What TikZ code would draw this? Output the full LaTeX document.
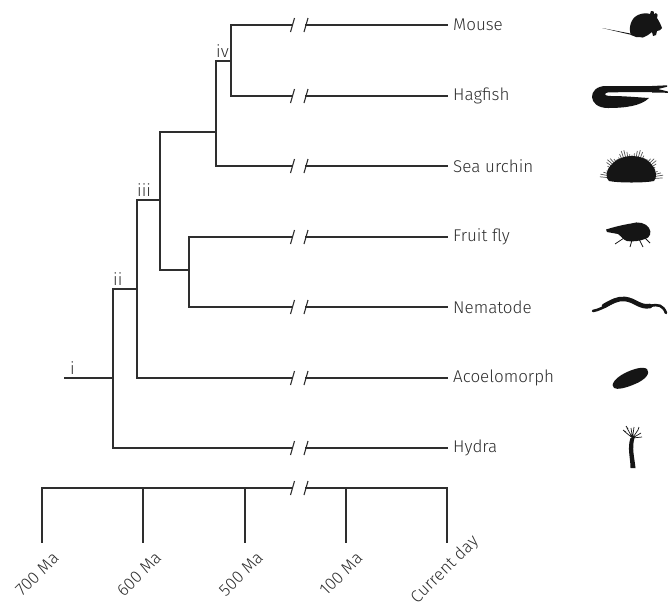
\documentclass[tikz,border=0pt]{standalone}
\usepackage{fontspec}
\setmainfont{Fira Sans}[UprightFont={* Light}]
\definecolor{ink}{HTML}{2E2E2E}
\definecolor{sil}{HTML}{151515}
\definecolor{spk}{HTML}{555555}

% one broken leaf line: branch, gap with two slashes, branch to the label
\newcommand\leafline[2]{%
  \draw[branch] (#1) -- (bl |- #2.west);
  \draw[branch] (br |- #2.west) -- (#2.west);
  \draw[brkmark] (bl |- #2.west) ++(-2,7) -- ++(4,-14);
  \draw[brkmark] (br |- #2.west) ++(-2,7) -- ++(4,-14);
}

\tikzset{
  branch/.style={draw=ink, line width=1.1pt, line cap=rect},
  brkmark/.style={draw=ink, line width=1.1pt},
  leaf/.style={anchor=west, inner xsep=6pt, inner ysep=0pt, text=ink,
    font=\fontsize{17}{19}\selectfont},
  clade/.style={anchor=south west, inner sep=1pt, text=ink,
    font=\fontsize{17}{19}\selectfont},
  axislbl/.style={rotate=45, inner sep=0pt, text=ink,
    font=\fontsize{17}{19}\selectfont},
  silh/.style={fill=sil, draw=none},
  spike/.style={draw=spk, line width=0.7pt},
}

\begin{document}
\begin{tikzpicture}[x=1pt, y=-1pt]
\fill[white] (0,0) rectangle (668,606);
\useasboundingbox (0,0) rectangle (668,606);

% x positions of the two slashes of every break
\coordinate (bl) at (292.5,0);
\coordinate (br) at (306,0);

% taxa
\node[leaf] (mouse)  at (447,25)  {Mouse};
\node[leaf] (hagfish) at (447,96) {Hagfish};
\node[leaf] (urchin) at (447,166) {Sea urchin};
\node[leaf] (fly)    at (447,237) {Fruit fly};
\node[leaf] (nema)   at (447,307) {Nematode};
\node[leaf] (acoel)  at (447,378) {Acoelomorph};
\node[leaf] (hydra)  at (447,448) {Hydra};

% internal nodes (top and bottom of each vertical bar)
\coordinate (root) at (65,378);
\coordinate (a1) at (113,289); \coordinate (a2) at (113,448);
\coordinate (b1) at (137,200); \coordinate (b2) at (137,378);
\coordinate (c1) at (160,132); \coordinate (c2) at (160,270);
\coordinate (d1) at (189,237); \coordinate (d2) at (189,307);
\coordinate (e1) at (216,61);  \coordinate (e2) at (216,166);
\coordinate (f1) at (231,25);  \coordinate (f2) at (231,96);

\draw[branch] (root) -- (a1 |- root);
\draw[branch] (a1) -- (a2);
\draw[branch] (a1) -- (b1 |- a1);
\draw[branch] (b1) -- (b2);
\draw[branch] (b1) -- (c1 |- b1);
\draw[branch] (c1) -- (c2);
\draw[branch] (c2) -- (d1 |- c2);
\draw[branch] (d1) -- (d2);
\draw[branch] (c1) -- (e1 |- c1);
\draw[branch] (e1) -- (e2);
\draw[branch] (e1) -- (f1 |- e1);
\draw[branch] (f1) -- (f2);

\leafline{f1}{mouse}
\leafline{f2}{hagfish}
\leafline{e2}{urchin}
\leafline{d1}{fly}
\leafline{d2}{nema}
\leafline{b2}{acoel}
\leafline{a2}{hydra}

% clade labels
\node[clade] (li)   at (69,376)  {i};
\node[clade] (lii)  at (112,287) {ii};
\node[clade] (liii) at (136,198) {iii};
\node[clade] (liv)  at (215,59)  {iv};

% time axis
\coordinate (t700) at (42,488);
\coordinate (t600) at (143,488);
\coordinate (t500) at (245,488);
\coordinate (t100) at (346,488);
\coordinate (tnow) at (447,488);
\draw[branch] (t700) -- (bl |- t700);
\draw[branch] (br |- t700) -- (tnow);
\draw[brkmark] (bl |- t700) ++(-2,7) -- ++(4,-14);
\draw[brkmark] (br |- t700) ++(-2,7) -- ++(4,-14);
\foreach \t in {t700,t600,t500,t100,tnow}
  \draw[branch] (\t) -- ++(0,54);

\node[axislbl] (l700) at (37,574)  {700 Ma};
\node[axislbl] (l600) at (139,574) {600 Ma};
\node[axislbl] (l500) at (241,574) {500 Ma};
\node[axislbl] (l100) at (341,574) {100 Ma};
\node[axislbl] (lnow) at (445,570) {Current day};

% ---- silhouettes ----
% mouse
\fill[silh] (631,35) .. controls (628,28) and (631,18) .. (638,15)
  .. controls (642,13) and (647,13) .. (650,14) -- (651,11)
  .. controls (653,10) and (655,12) .. (654,14) -- (656,13)
  .. controls (658,13) and (658,16) .. (657,18)
  .. controls (659,21) and (661,25) .. (662,28)
  .. controls (661,30) and (659,31) .. (657,31) -- (656,35) -- (653,36)
  -- (652,32) -- (648,35) -- (644,37) -- (636,37) -- cycle;
\fill[silh] (602,28) -- (644,36.2) -- (643,37.6) -- cycle;

% hagfish
\fill[silh] (653,86) -- (606,86) .. controls (587,86) and (587,108) .. (608,108)
  .. controls (625,108) and (641,106) .. (649,98)
  .. controls (640,97.5) and (625,96) .. (611,96)
  .. controls (603,96) and (603,92.5) .. (610,92.3) -- (653,92) -- cycle;
\fill[silh] (652,86) -- (667,85.3) -- (667,86.8) -- (658,89) -- (668,91.5)
  -- (668,92.8) -- (652,92.5) -- cycle;

% sea urchin
\foreach \a in {4,9,...,176}
  \draw[spike] ({631.5+22*cos(\a)},{180-21*sin(\a)}) --
    ({631.5+(29+3*sin(11*\a))*cos(\a)},{180-(28+3*sin(11*\a))*sin(\a)});
\fill[silh] (609,181) .. controls (605,178) and (606,170) .. (611,165)
  .. controls (617,158) and (626,156) .. (632,156)
  .. controls (639,156) and (647,158) .. (652,165)
  .. controls (657,171) and (657,178) .. (654,181)
  .. controls (645,183) and (618,183) .. (609,181) -- cycle;

% fruit fly
\fill[silh] (606,229.5) .. controls (614,227) and (622,225) .. (631,223.5)
  .. controls (638,221) and (646,223) .. (649,228)
  .. controls (652,232) and (650,238) .. (645,239)
  .. controls (640,241) and (632,242) .. (627,241)
  .. controls (623,240) and (621,236) .. (618,234)
  -- (607,232) -- cycle;
\draw[sil, line width=0.8pt] (624,238) -- (615,244)
  (632,240) -- (630,247) (639,239) -- (643,247) (644,237) -- (650,243);

% nematode
\draw[sil, line width=2.6pt, line cap=round] (593,311) .. controls (605,309) and (615,298) .. (625,299)
  .. controls (635,300) and (640,308) .. (650,306)
  .. controls (658,304) and (663,305) .. (666,313);
\draw[sil, line width=4.6pt, line cap=round] (604,306) .. controls (611,302) and (618,298) .. (625,299)
  .. controls (635,300) and (640,308) .. (650,306);

% acoelomorph
\fill[silh] (614,388) .. controls (610,385) and (615,378) .. (625,373)
  .. controls (633,369) and (643,366) .. (647,369)
  .. controls (651,373) and (645,380) .. (635,384)
  .. controls (626,388) and (617,390) .. (614,388) -- cycle;

% hydra
\fill[silh] (630.5,468) .. controls (630.5,458) and (627,448) .. (630.5,438) -- (634.5,438)
  .. controls (631.5,448) and (634.5,458) .. (635.5,468) -- cycle;
\draw[sil, line width=0.7pt] (632.5,438) -- (624,431) (632.5,438) -- (627,428)
  (632.5,438) -- (631,428) (632.5,438) -- (634,427) (632.5,438) -- (638,430)
  (632.5,438) -- (641,433) (632.5,438) -- (642,437)
  (626,432) -- (623,430) (628,429) -- (626,426) (638,430) -- (639,427);
\end{tikzpicture}
\end{document}
